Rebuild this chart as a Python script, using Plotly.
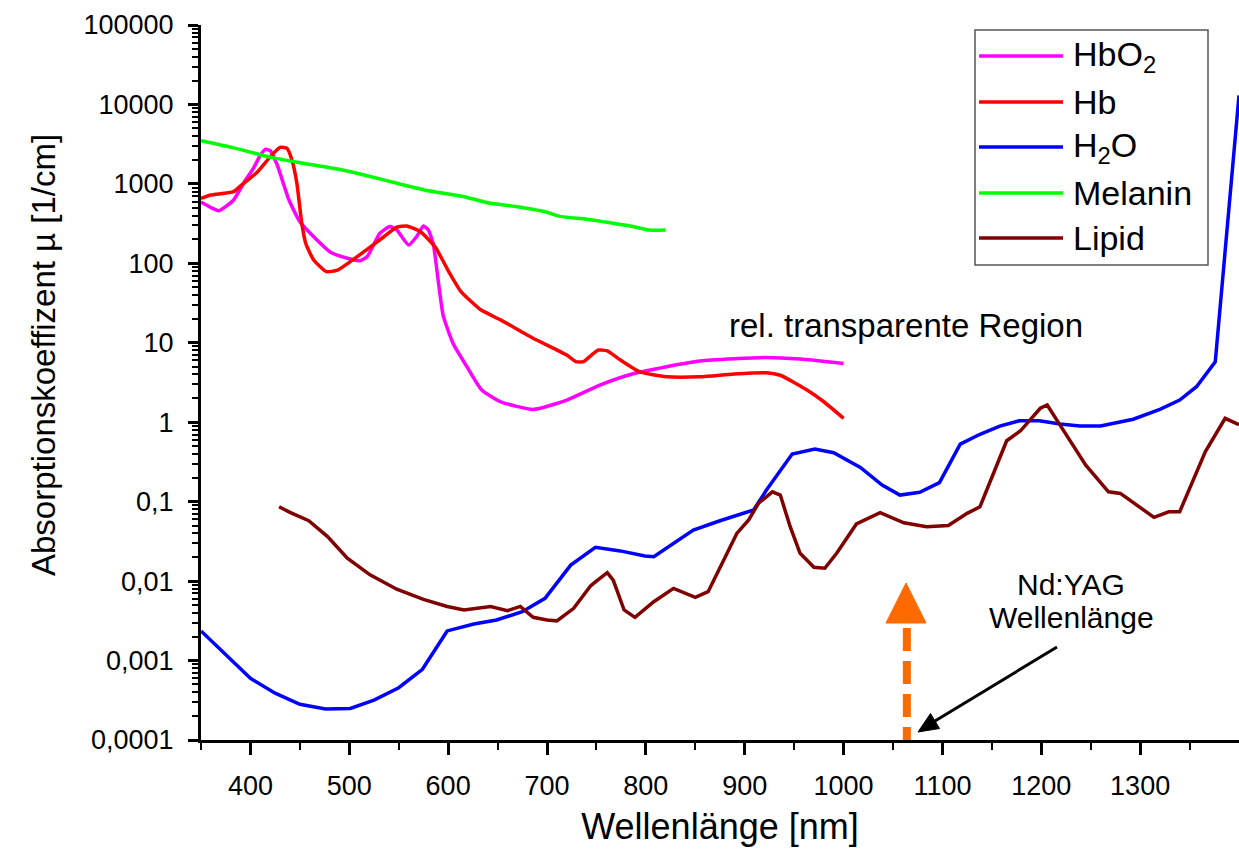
import plotly.graph_objects as go

# ---------------- data ----------------
wl_hbo2 = [350, 358, 368, 383, 395, 403, 410, 415, 420, 427, 439, 450, 464, 481, 498, 511, 518, 531, 541,
           548, 560, 568, 575, 580, 585, 590, 595, 605, 619, 634, 653, 686, 720, 754, 788, 821, 855, 889,
           922, 956, 1000]
mu_hbo2 = [590, 520, 460, 627, 1120, 1570, 2290, 2720, 2620, 1740, 627, 333, 216, 138, 116, 108, 121, 239,
           290, 263, 170, 216, 295, 263, 175, 60, 22, 9.8, 5.0, 2.54, 1.81, 1.45, 1.9, 2.95, 4.1, 5.0, 5.9,
           6.3, 6.55, 6.25, 5.5]

wl_hb = [350, 360, 383, 393, 407, 420, 430, 437, 442, 447, 452, 456, 464, 477, 488, 501, 518, 535, 548, 558,
         572, 587, 601, 613, 633, 653, 686, 720, 729, 737, 745, 752, 761, 774, 794, 821, 855, 889, 922, 936,
         963, 980, 1000]
mu_hb = [660, 724, 800, 1016, 1410, 2190, 2880, 2790, 1990, 1016, 316, 178, 110, 78.5, 82, 105, 150, 216,
         285, 295, 250, 160, 77, 44, 26, 19.4, 11.4, 7.0, 5.8, 5.8, 7.0, 8.1, 7.9, 6.1, 4.3, 3.74, 3.74, 4.05,
         4.2, 3.9, 2.54, 1.81, 1.12]

wl_h2o = [350, 400, 425, 450, 476, 501, 525, 550, 574, 599, 626, 649, 675, 698, 724, 749, 774, 799, 808, 825,
          848, 875, 902, 909, 922, 948, 971, 990, 1017, 1039, 1057, 1077, 1097, 1118, 1138, 1158, 1178, 1198,
          1219, 1239, 1260, 1293, 1320, 1340, 1357, 1376, 1400]
mu_h2o = [0.00236, 0.000597, 0.000389, 0.000282, 0.000245, 0.00025, 0.000318, 0.000455, 0.000776, 0.00236,
          0.00288, 0.00324, 0.00412, 0.00607, 0.0159, 0.0266, 0.024, 0.0207, 0.0203, 0.0284, 0.044, 0.0575,
          0.0725, 0.0785, 0.14, 0.398, 0.46, 0.413, 0.27, 0.162, 0.121, 0.131, 0.174, 0.53, 0.705, 0.895,
          1.045, 1.045, 0.95, 0.895, 0.895, 1.09, 1.45, 1.9, 2.8, 5.76, 13000]

wl_melanin = [350, 380, 422, 450, 484, 520, 552, 580, 616, 640, 673, 700, 713, 740, 764, 790, 803, 820]
mu_melanin = [3500, 2900, 2140, 1850, 1570, 1250, 990, 820, 690, 580, 507, 440, 390, 360, 324, 285, 262, 263]

wl_lipid = [429, 440, 459, 478, 498, 521, 548, 575, 599, 616, 643, 660, 673, 686, 700, 710, 727, 744, 749,
            761, 767, 778, 789, 808, 828, 850, 863, 879, 892, 904, 914, 928, 936, 946, 956, 970, 981, 993,
            1013, 1037, 1061, 1084, 1106, 1125, 1138, 1165, 1179, 1199, 1206, 1219, 1245, 1268, 1280, 1314,
            1329, 1340, 1366, 1386, 1396, 1400]
mu_lipid = [0.0863, 0.0733, 0.0575, 0.0363, 0.0194, 0.012, 0.0079, 0.0059, 0.0048, 0.00433, 0.0048,
            0.00424, 0.0048, 0.0035, 0.00324, 0.00316, 0.00454, 0.0087, 0.0098, 0.0128, 0.0103, 0.00433,
            0.0035, 0.0055, 0.0081, 0.00625, 0.00736, 0.0184, 0.0398, 0.0589, 0.0955, 0.133, 0.121, 0.0484,
            0.0224, 0.0149, 0.0145, 0.0224, 0.0525, 0.0725, 0.0543, 0.0484, 0.05, 0.0713, 0.0863, 0.585,
            0.78, 1.5, 1.65, 0.92, 0.288, 0.133, 0.127, 0.0635, 0.0746, 0.0746, 0.426, 1.12, 0.97, 0.93]

series_names = ["HbO<sub>2</sub>", "Hb", "H<sub>2</sub>O", "Melanin", "Lipid"]
series_colors = ["#FF00FF", "#FF0000", "#0000FF", "#00FF00", "#800000"]

x_tickvals = [400, 500, 600, 700, 800, 900, 1000, 1100, 1200, 1300]
x_minorvals = [350, 450, 550, 650, 750, 850, 950, 1050, 1150, 1250, 1350]
y_tickvals = [0.0001, 0.001, 0.01, 0.1, 1, 10, 100, 1000, 10000, 100000]
y_ticktext = ["0,0001", "0,001", "0,01", "0,1", "1", "10", "100", "1000", "10000", "100000"]
y_minorvals = [k * 10.0 ** e for e in range(-4, 5) for k in range(2, 10)]

nd_yag_wl = 1064

# ---------------- layout helpers ----------------
# the page's body margin is removed (post_script), so the figure fills the window;
# plot area at x 201..1239, y 25..740
W, H = 1239, 852
L, R, T, B = 201, 1239, 25, 740
FONT = "Liberation Sans, Arial, sans-serif"


def px(x):
    return (x - L) / (R - L)


def py(y):
    return (B - y) / (B - T)


fig = go.Figure()
data = [(wl_hbo2, mu_hbo2, "spline"), (wl_hb, mu_hb, "spline"), (wl_h2o, mu_h2o, "linear"),
        (wl_melanin, mu_melanin, "spline"), (wl_lipid, mu_lipid, "linear")]
for (xs, ys, shp), name, col in zip(data, series_names, series_colors):
    fig.add_trace(go.Scatter(x=xs, y=ys, mode="lines", name=name, showlegend=False,
                             line=dict(color=col, width=3.5, shape=shp, smoothing=0.5)))

shapes = []
annotations = []

# manual legend (box, line samples, labels)
shapes.append(dict(type="rect", xref="paper", yref="paper", x0=px(975), x1=px(1208), y0=py(265), y1=py(30),
                   line=dict(color="#555555", width=1.5), fillcolor="white", layer="above"))
legend_y = [56, 102, 147, 193, 238]
for name, col, ly in zip(series_names, series_colors, legend_y):
    shapes.append(dict(type="line", xref="paper", yref="paper", x0=px(979), x1=px(1063), y0=py(ly), y1=py(ly),
                       line=dict(color=col, width=3.5), layer="above"))
    annotations.append(dict(xref="paper", yref="paper", x=px(1071), y=py(ly), text=name, showarrow=False,
                            xanchor="left", yanchor="middle", font=dict(family=FONT, size=34, color="black")))

# Nd:YAG marker (dashed orange arrow)
shapes.append(dict(type="line", xref="x", yref="y", x0=nd_yag_wl, x1=nd_yag_wl, y0=0.00257, y1=0.0001,
                   line=dict(color="#FF6A00", width=8, dash="23px,10px")))
shapes.append(dict(type="path", xref="paper", yref="paper",
                   path=f"M {px(906)} {py(583)} L {px(926)} {py(623)} L {px(886)} {py(623)} Z",
                   fillcolor="#FF6A00", line=dict(color="#FF6A00", width=1)))

# black pointer arrow (shaft + head)
shapes.append(dict(type="line", xref="paper", yref="paper", x0=px(1057), y0=py(647), x1=px(935), y1=py(721),
                   line=dict(color="black", width=3)))
shapes.append(dict(type="path", xref="paper", yref="paper",
                   path=f"M {px(918)} {py(732)} L {px(939.5)} {py(728.5)} L {px(930.5)} {py(713.5)} Z",
                   fillcolor="black", line=dict(color="black", width=1)))

annotations.append(dict(xref="paper", yref="paper", x=px(1071), y=py(584), text="Nd:YAG",
                        showarrow=False, xanchor="center", yanchor="middle",
                        font=dict(family=FONT, size=30, color="black")))
annotations.append(dict(xref="paper", yref="paper", x=px(1071), y=py(617), text="Wellenlänge",
                        showarrow=False, xanchor="center", yanchor="middle",
                        font=dict(family=FONT, size=30, color="black")))
annotations.append(dict(xref="paper", yref="paper", x=px(727), y=py(325), text="rel. transparente Region",
                        showarrow=False, xanchor="left", yanchor="middle",
                        font=dict(family=FONT, size=33, color="black")))
# y-axis title (placed as in the reference, slightly above the plot centre)
annotations.append(dict(xref="paper", yref="paper", x=px(43), y=py(355), text="Absorptionskoeffizent µ [1/cm]",
                        textangle=-90, showarrow=False, xanchor="center", yanchor="middle",
                        font=dict(family=FONT, size=33, color="black")))

fig.update_layout(
    width=W, height=H,
    margin=dict(l=L, r=W - R, t=T, b=H - B),
    plot_bgcolor="white", paper_bgcolor="white",
    shapes=shapes, annotations=annotations, showlegend=False,
    xaxis=dict(range=[350, 1400], tickvals=x_tickvals, ticks="outside", ticklen=12, tickwidth=2.5,
               tickcolor="black", showline=True, linecolor="black", linewidth=3, showgrid=False,
               zeroline=False, tickfont=dict(family=FONT, size=27, color="black"), ticklabelstandoff=8,
               minor=dict(tickvals=x_minorvals, ticks="outside", ticklen=7, tickwidth=2, tickcolor="black"),
               title=dict(text="Wellenlänge [nm]", font=dict(family=FONT, size=36, color="black"),
                          standoff=14)),
    yaxis=dict(type="log", range=[-4, 5], tickvals=y_tickvals, ticktext=y_ticktext, ticks="outside",
               ticklen=10, tickwidth=2.5, tickcolor="black", showline=True, linecolor="black", linewidth=3,
               showgrid=False, zeroline=False, tickfont=dict(family=FONT, size=27, color="black"),
               ticklabelstandoff=9,
               minor=dict(tickvals=y_minorvals, ticks="outside", ticklen=6, tickwidth=1.5, tickcolor="black")),
)

fig.write_html("out.html", config={"displayModeBar": False},
               post_script="document.body.style.margin='0';document.body.style.overflow='hidden';")
